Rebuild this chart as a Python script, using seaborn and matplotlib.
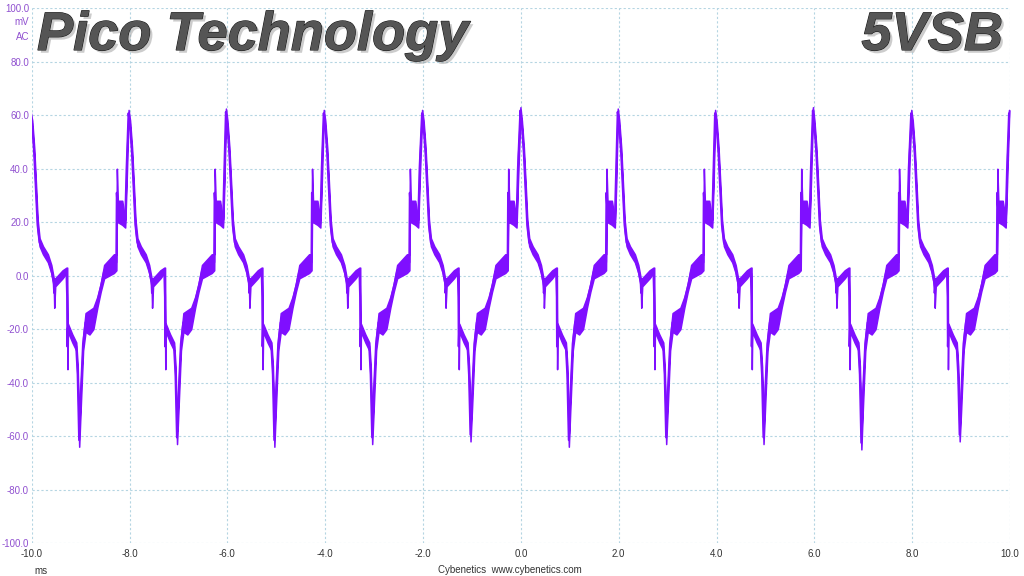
import numpy as np
import pandas as pd
import matplotlib
matplotlib.use("Agg")
import matplotlib.pyplot as plt
import matplotlib.patheffects as pe
import seaborn as sns

# one cycle of the ripple, read relative to its positive peak (ms, mV)
shape_dt = [0.00, 0.03, 0.07, 0.11, 0.14, 0.18, 0.25, 0.35, 0.42, 0.47, 0.48, 0.50,
            0.55, 0.65, 0.73, 0.745, 0.75, 0.76, 0.85, 0.93, 0.96, 0.99, 1.02, 1.07,
            1.12, 1.20, 1.28, 1.36, 1.43, 1.50, 1.60, 1.70, 1.75, 1.76, 1.78, 1.87,
            1.93, 1.96]
shape_lo = [60, 55, 44, 28, 17, 11, 8, 5, 1, -4, -12, -4,
            -3, -1, 1, -19, -35, -21, -25, -28, -40, -64, -50, -28,
            -21, -22, -20, -12, -6, -1, 0, 1, 2, 22, 20, 19,
            18, 35]
shape_hi = [63, 58, 48, 33, 21, 14, 11, 8, 4, -1, -1, -1,
            0, 2, 3, 3, -18, -18, -22, -25, -34, -58, -42, -23,
            -14, -13, -12, -8, -3, 4, 6, 8, 8, 40, 28, 28,
            21, 45]

# positive peaks of each cycle (ms) and their heights, plus the negative troughs
peak_t = [-10.02, -8.02, -6.03, -4.03, -2.02, -0.01, 1.98, 3.97, 5.97, 7.98, 9.98]
peak_mv = [61, 62, 62.5, 62, 62, 63, 62.5, 62, 63, 62, 62]
trough_mv = [-64, -63, -64, -63, -62, -64, -63, -63, -65, -62]

y_ticks = [-100, -80, -60, -40, -20, 0, 20, 40, 60, 80, 100]
x_ticks = [-10, -8, -6, -4, -2, 0, 2, 4, 6, 8, 10]

trough_idx = int(np.argmin(shape_lo))
rows = []
for i in range(len(trough_mv)):
    for j, dt in enumerate(shape_dt):
        lo, hi = shape_lo[j], shape_hi[j]
        if j == 0:
            lo, hi = peak_mv[i] - 2.5, peak_mv[i]
        if j == trough_idx:
            lo, hi = trough_mv[i], trough_mv[i] + 5
        rows.append((peak_t[i] + dt, lo, hi))
rows.append((peak_t[-1], peak_mv[-1] - 2.5, peak_mv[-1]))
df = pd.DataFrame(rows, columns=["t", "lo", "hi"])
df["mid"] = (df["lo"] + df["hi"]) / 2

sns.set_style("white")
plt.rcParams["font.family"] = ["Liberation Sans", "DejaVu Sans"]

trace = "#7f0fff"
purple = "#9050d0"
gridc = "#b5d5e2"

fig = plt.figure(figsize=(10.24, 5.76), dpi=100)
ax = fig.add_axes([0.031, 0.0573, 0.9554, 0.9283])

ax.fill_between(df["t"], df["lo"], df["hi"], color=trace, lw=1.1, zorder=3)
sns.lineplot(data=df, x="t", y="mid", ax=ax, color=trace, lw=1.6,
             estimator=None, sort=False, zorder=4)

ax.set_xlim(-10, 10)
ax.set_ylim(-100, 100)
ax.set_xticks(x_ticks)
ax.set_yticks(y_ticks)
ax.set_xticklabels([f"{v:.1f}" for v in x_ticks], color="#333333", fontsize=7)
ax.set_yticklabels([f"{v:.1f}" for v in y_ticks], color=purple, fontsize=7)
ax.tick_params(axis="y", length=0, pad=2)
ax.tick_params(axis="x", length=0, pad=4)
ax.set_xlabel("")
ax.set_ylabel("")
ax.grid(True, color=gridc, ls=(0, (2, 2)), lw=0.8)
for s in ax.spines.values():
    s.set_visible(False)

fig.text(29 / 1024, 1 - 22 / 576, "mV", color=purple, fontsize=7, ha="right", va="center")
fig.text(29 / 1024, 1 - 37 / 576, "AC", color=purple, fontsize=7, ha="right", va="center")
fig.text(34 / 1024, 1 - 571 / 576, "ms", color="#333333", fontsize=7, ha="left", va="center")
fig.text(510 / 1024, 1 - 570 / 576, "Cybenetics  www.cybenetics.com", color="#333333",
         fontsize=7, ha="center", va="center")

fx = [pe.SimplePatchShadow(offset=(2, -2), shadow_rgbFace="#9a9a9a", alpha=0.5),
      pe.withStroke(linewidth=0.8, foreground="#1a1a1a")]
fig.text(37 / 1024, 1 - 50 / 576, "Pico Technology", fontsize=39, fontweight="bold",
         fontstyle="italic", color="#555555", ha="left", va="baseline",
         path_effects=fx, zorder=10)
fig.text(1003 / 1024, 1 - 50 / 576, "5VSB", fontsize=39, fontweight="bold",
         fontstyle="italic", color="#555555", ha="right", va="baseline",
         path_effects=fx, zorder=10)

fig.savefig("out.png", dpi=100)
